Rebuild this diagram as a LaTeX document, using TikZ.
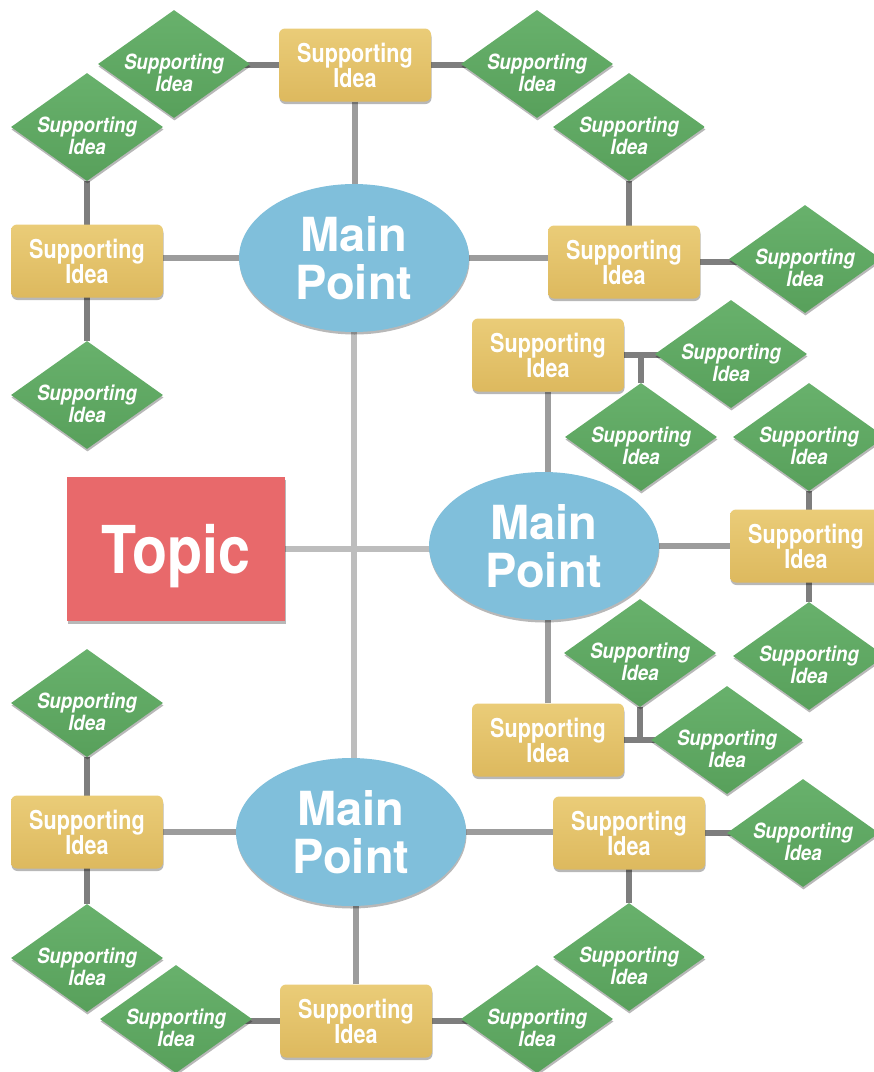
\documentclass[tikz,border=0pt]{standalone}
\usepackage{fontspec}
\setmainfont{TeX Gyre Heros}
\newfontfamily\mpfont{TeX Gyre Heros}
\newfontfamily\topicfont[FakeStretch=0.87]{TeX Gyre Heros}
\newfontfamily\supfont[FakeStretch=0.83]{TeX Gyre Heros}
\newfontfamily\subfont[FakeStretch=0.89]{TeX Gyre Heros}
\usetikzlibrary{shapes.geometric,shadows}
\pgfdeclarelayer{bg}
\pgfsetlayers{bg,main}
\definecolor{mpblue}{HTML}{80BFDB}
\definecolor{topicred}{HTML}{E8696B}
\definecolor{supyelTop}{HTML}{EACC78}
\definecolor{supyelBot}{HTML}{DDB95E}
\definecolor{subgrnTop}{HTML}{68B16C}
\definecolor{subgrnBot}{HTML}{58A05B}
\definecolor{lineA}{HTML}{BDBDBD}
\definecolor{lineB}{HTML}{9C9C9C}
\definecolor{lineC}{HTML}{7E7E7E}
\newcommand\mpfnt{\mpfont\bfseries\fontsize{47}{48}\selectfont\lineskiplimit-100pt\relax}
\newcommand\topfnt{\topicfont\bfseries\fontsize{66}{66}\selectfont}
\newcommand\supfnt{\supfont\bfseries\fontsize{26}{25}\selectfont\lineskiplimit-100pt\relax}
\newcommand\subfnt{\subfont\bfseries\itshape\fontsize{21}{22}\selectfont\lineskiplimit-100pt\relax}
% a zero-width strut that lowers the two-line label inside the diamonds
\newcommand\dialower{\rule{0pt}{33pt}}
\tikzset{
  shd/.style={drop shadow={shadow xshift=0.5pt, shadow yshift=-2.5pt, opacity=0.28, fill=black}},
  mainpt/.style={ellipse, fill=mpblue, shd, minimum width=230pt, minimum height=148pt,
    inner sep=0pt, text=white, align=center, font=\mpfnt},
  topicbox/.style={rectangle, fill=topicred, shd, minimum width=218pt, minimum height=144pt,
    inner sep=0pt, text=white, text depth=0pt, font=\topfnt},
  supbox/.style={rectangle, rounded corners=6pt, top color=supyelTop, bottom color=supyelBot, shd,
    minimum width=152pt, minimum height=73pt, inner sep=0pt, text=white, align=center,
    font=\supfnt},
  subdia/.style={diamond, shape aspect=1.42, top color=subgrnTop, bottom color=subgrnBot, shd,
    minimum width=152pt, minimum height=108pt, inner xsep=0pt, inner ysep=-10pt,
    text=white, align=center, font=\subfnt},
  lvA/.style={draw=lineA, line width=5.5pt},
  lvB/.style={draw=lineB, line width=6pt},
  lvC/.style={draw=lineC, line width=6pt},
}
\begin{document}
\begin{tikzpicture}[x=1pt,y=-1pt]
\useasboundingbox (0,0) rectangle (874,1072);
\clip (0,0) rectangle (874,1072);

% main nodes
\node[topicbox] (topic) at (176,549) {Topic};
\node[mainpt] (mp1) at (354,258) {Main\\Point};
\node[mainpt] (mp2) at (544,546) {Main\\Point};
\node[mainpt] (mp3) at (351,832) {Main\\Point};

% supporting ideas (rectangles)
\node[supbox] (r1) at (355,65) {Supporting\\Idea};
\node[supbox] (r2) at (87,261) {Supporting\\Idea};
\node[supbox] (r3) at (624,262) {Supporting\\Idea};
\node[supbox] (r4) at (548,355) {Supporting\\Idea};
\node[supbox] (r5) at (806,546) {Supporting\\Idea};
\node[supbox] (r6) at (548,740) {Supporting\\Idea};
\node[supbox] (r7) at (87,832) {Supporting\\Idea};
\node[supbox] (r8) at (629,833) {Supporting\\Idea};
\node[supbox] (r9) at (356,1021) {Supporting\\Idea};

% supporting ideas (diamonds)
\node[subdia] (d1) at (174,64) {\dialower Supporting\\Idea};
\node[subdia] (d2) at (87,127) {\dialower Supporting\\Idea};
\node[subdia] (d3) at (537,64) {\dialower Supporting\\Idea};
\node[subdia] (d4) at (629,127) {\dialower Supporting\\Idea};
\node[subdia] (d5) at (805,259) {\dialower Supporting\\Idea};
\node[subdia] (d6) at (87,395) {\dialower Supporting\\Idea};
\node[subdia] (d7) at (731,354) {\dialower Supporting\\Idea};
\node[subdia] (d8) at (641,437) {\dialower Supporting\\Idea};
\node[subdia] (d9) at (809,437) {\dialower Supporting\\Idea};
\node[subdia] (d10) at (809,656) {\dialower Supporting\\Idea};
\node[subdia] (d11) at (640,653) {\dialower Supporting\\Idea};
\node[subdia] (d12) at (727,740) {\dialower Supporting\\Idea};
\node[subdia] (d13) at (87,703) {\dialower Supporting\\Idea};
\node[subdia] (d14) at (87,958) {\dialower Supporting\\Idea};
\node[subdia] (d15) at (176,1019) {\dialower Supporting\\Idea};
\node[subdia] (d16) at (537,1019) {\dialower Supporting\\Idea};
\node[subdia] (d17) at (803,833) {\dialower Supporting\\Idea};
\node[subdia] (d18) at (629,957) {\dialower Supporting\\Idea};

\coordinate (j1) at (d8 |- r4);
\coordinate (j2) at (d11 |- r6);

\begin{pgfonlayer}{bg}
% level 1
\draw[lvA] (topic) -- (topic -| mp2);
\draw[lvA] (mp1) -- (mp1 |- mp3);
% level 2
\draw[lvB] (r1) -- (r1 |- mp1);
\draw[lvB] (mp1) -- (mp1 -| r2);
\draw[lvB] (mp1) -- (mp1 -| r3);
\draw[lvB] (r4) -- (r4 |- mp2);
\draw[lvB] (mp2) -- (mp2 -| r5);
\draw[lvB] (r6) -- (r6 |- mp2);
\draw[lvB] (mp3) -- (mp3 -| r7);
\draw[lvB] (mp3) -- (mp3 -| r8);
\draw[lvB] (r9) -- (r9 |- mp3);
% level 3
\draw[lvC] (r1) -- (r1 -| d1);
\draw[lvC] (r1) -- (r1 -| d3);
\draw[lvC] (d2) -- (d2 |- r2);
\draw[lvC] (d6) -- (d6 |- r2);
\draw[lvC] (d4) -- (d4 |- r3);
\draw[lvC] (r3) -- (r3 -| d5);
\draw[lvC] (r4) -- (r4 -| d7);
\draw[lvC] (j1) -- (d8);
\draw[lvC] (d9) -- (d9 |- r5);
\draw[lvC] (d10) -- (d10 |- r5);
\draw[lvC] (r6) -- (r6 -| d12);
\draw[lvC] (j2) -- (d11);
\draw[lvC] (d13) -- (d13 |- r7);
\draw[lvC] (d14) -- (d14 |- r7);
\draw[lvC] (r8) -- (r8 -| d17);
\draw[lvC] (d18) -- (d18 |- r8);
\draw[lvC] (r9) -- (r9 -| d15);
\draw[lvC] (r9) -- (r9 -| d16);
\end{pgfonlayer}
\end{tikzpicture}
\end{document}
